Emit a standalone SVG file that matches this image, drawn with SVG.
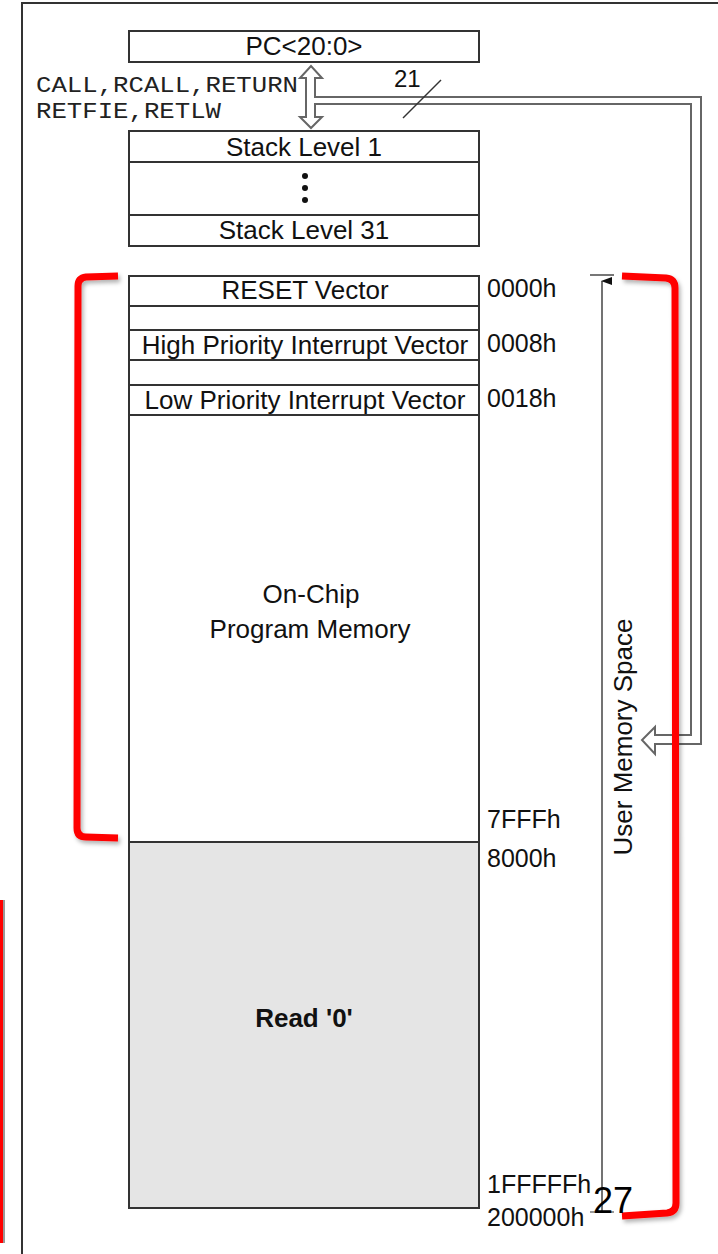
<svg xmlns="http://www.w3.org/2000/svg" width="718" height="1254" viewBox="0 0 718 1254">
<defs>
<style>
.box{fill:#fff;stroke:#333;stroke-width:2}
.t{font-family:"Liberation Sans",Arial,sans-serif;font-size:26px;fill:#111}
.addr{font-family:"Liberation Sans",Arial,sans-serif;font-size:25px;fill:#111}
.mono{font-family:"Liberation Mono","Courier New",monospace;font-size:22px;fill:#222}
.red{fill:none;stroke:#ff0000;stroke-width:7;stroke-linejoin:round}
.bus{fill:#fff;stroke:#666;stroke-width:2}
</style>
<filter id="sh" x="-20%" y="-5%" width="140%" height="110%">
<feDropShadow dx="2" dy="3" stdDeviation="2" flood-color="#000" flood-opacity="0.3"/>
</filter>
<marker id="ah" markerWidth="10" markerHeight="12" refX="5" refY="1" orient="auto-start-reverse" markerUnits="userSpaceOnUse">
<path d="M5,0 L9,11 L1,11 Z" fill="#111"/>
</marker>
</defs>
<rect width="718" height="1254" fill="#fff"/>
<g id="frame">
<path d="M22,1254 V3 H718" fill="none" stroke="#333" stroke-width="2"/>
<rect x="0" y="900" width="3" height="343" fill="#ff0000"/>
<line x1="4" y1="900" x2="4" y2="1243" stroke="#777" stroke-width="1.5"/>
</g>
<g id="connectors">
<path class="bus" d="M315,97 L701,97 L701,744 L655,744 L655,754 L642,740 L655,727 L655,735 L691,735 L691,104 L315,104 L315,117 L322,117 L311,128 L300,117 L306,117 L306,78 L300,78 L311,66 L322,78 L315,78 Z"/>
<line x1="403" y1="118" x2="441" y2="80" stroke="#333" stroke-width="1.5"/>
<text x="394" y="87" class="t" style="font-size:24px">21</text>
<line x1="602" y1="1212" x2="602" y2="281" stroke="#444" stroke-width="1.5" marker-end="url(#ah)"/>
<line x1="590" y1="275" x2="614" y2="275" stroke="#777" stroke-width="2"/>
<line x1="590" y1="1212" x2="614" y2="1212" stroke="#777" stroke-width="1.5"/>
</g>
<g id="pc">
<rect class="box" x="129" y="31" width="350" height="31"/>
<text x="304" y="55" class="t" text-anchor="middle">PC&lt;20:0&gt;</text>
</g>
<g id="instr">
<text x="36" y="92" class="mono" textLength="262" lengthAdjust="spacingAndGlyphs">CALL,RCALL,RETURN</text>
<text x="36" y="118" class="mono" textLength="185" lengthAdjust="spacingAndGlyphs">RETFIE,RETLW</text>
</g>
<g id="stack">
<rect class="box" x="129" y="131" width="350" height="115"/>
<line x1="129" y1="162" x2="479" y2="162" stroke="#333" stroke-width="2"/>
<line x1="129" y1="215" x2="479" y2="215" stroke="#333" stroke-width="2"/>
<text x="304" y="156" class="t" text-anchor="middle">Stack Level 1</text>
<circle cx="305" cy="176" r="3" fill="#111"/>
<circle cx="305" cy="188" r="3" fill="#111"/>
<circle cx="305" cy="200" r="3" fill="#111"/>
<text x="304" y="239" class="t" text-anchor="middle">Stack Level 31</text>
</g>
<g id="memory">
<rect class="box" x="129" y="276" width="350" height="566"/>
<rect x="129" y="842" width="350" height="366" fill="#e5e5e5" stroke="#333" stroke-width="2"/>
<line x1="129" y1="306" x2="479" y2="306" stroke="#333" stroke-width="2"/>
<line x1="129" y1="330" x2="479" y2="330" stroke="#333" stroke-width="2"/>
<line x1="129" y1="360" x2="479" y2="360" stroke="#333" stroke-width="2"/>
<line x1="129" y1="385" x2="479" y2="385" stroke="#333" stroke-width="2"/>
<line x1="129" y1="415" x2="479" y2="415" stroke="#333" stroke-width="2"/>
<text x="305" y="299" class="t" text-anchor="middle">RESET Vector</text>
<text x="305" y="354" class="t" text-anchor="middle">High Priority Interrupt Vector</text>
<text x="305" y="409" class="t" text-anchor="middle">Low Priority Interrupt Vector</text>
<text x="311" y="603" class="t" text-anchor="middle">On-Chip</text>
<text x="310" y="638" class="t" text-anchor="middle">Program Memory</text>
<text x="304" y="1027" class="t" text-anchor="middle" font-weight="bold">Read '0'</text>
</g>
<g id="addresses">
<text x="487" y="297" class="addr">0000h</text>
<text x="487" y="352" class="addr">0008h</text>
<text x="487" y="407" class="addr">0018h</text>
<text x="487" y="828" class="addr">7FFFh</text>
<text x="487" y="867" class="addr">8000h</text>
<text x="487" y="1193" class="addr">1FFFFFh</text>
<text x="487" y="1226" class="addr">200000h</text>
</g>
<g id="userspace">
<text transform="translate(632,737) rotate(-90)" class="t" text-anchor="middle">User Memory Space</text>
</g>
<g id="brackets" filter="url(#sh)">
<path class="red" d="M118,276 L86,277 Q78,278 78,286 L77,828 Q77,837 86,837 L118,838"/>
<path class="red" d="M622,276 L666,278 Q675,279 675,288 L676,1203 Q676,1212 667,1213 L622,1216"/>
</g>
<text x="593" y="1213" style="font-family:'Liberation Sans',Arial,sans-serif;font-size:36px;fill:#000">27</text>
</svg>
